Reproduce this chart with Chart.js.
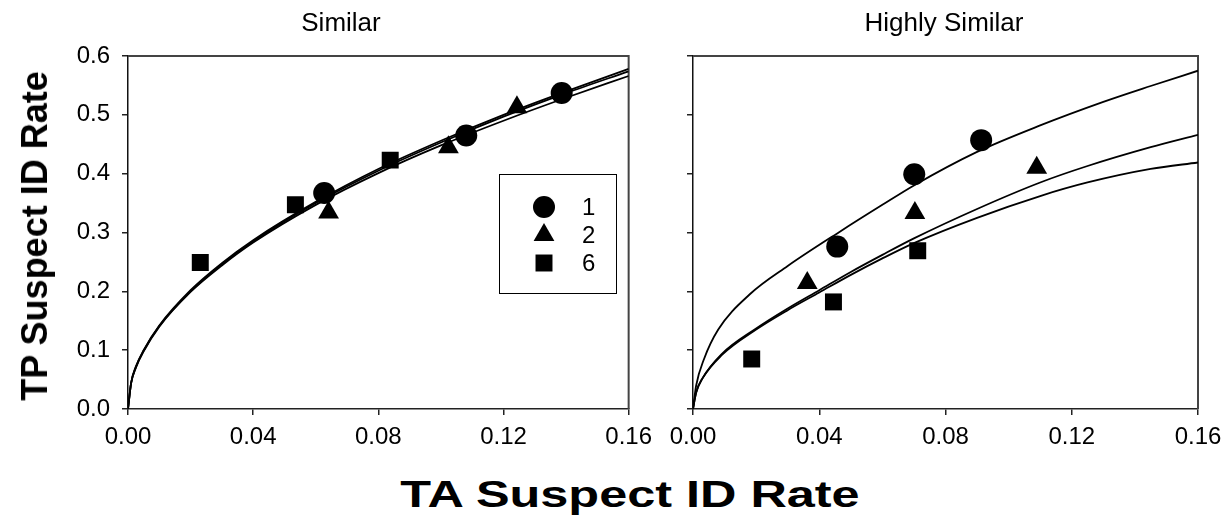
<!DOCTYPE html>
<html>
<head>
<meta charset="utf-8">
<script src="https://cdn.jsdelivr.net/npm/chart.js@4.4.1/dist/chart.umd.min.js"></script>
<style>
body { margin: 0; background: #fff; font-family: "Liberation Sans", Arial, sans-serif; color: #000; }
#wrap { position: relative; width: 1232px; height: 525px; overflow: hidden; }
.panel { position: absolute; top: 0; height: 450px; }
#left { left: 0; width: 660px; }
#right { left: 660px; width: 572px; }
.ptitle { position: absolute; top: 22px; transform: translate(-50%, -50%); font-size: 26px; white-space: nowrap; }
#ytitle { position: absolute; left: 35px; top: 236px; transform: translate(-50%, -50%) rotate(-90deg); font-weight: bold; font-size: 36px; white-space: nowrap; }
#xtitle { position: absolute; left: 630px; top: 495px; transform: translate(-50%, -50%) scaleX(1.4); font-weight: bold; font-size: 36px; white-space: nowrap; }
</style>
</head>
<body>
<div id="wrap">
  <div class="panel" id="left"><canvas id="simChart"></canvas></div>
  <div class="panel" id="right"><canvas id="hiChart"></canvas></div>
  <div class="ptitle" style="left:341px">Similar</div>
  <div class="ptitle" style="left:944px">Highly Similar</div>
  <div id="ytitle">TP Suspect ID Rate</div>
  <div id="xtitle">TA Suspect ID Rate</div>
</div>
<script>
// tick labels
var xTicks = [0, 0.04, 0.08, 0.12, 0.16];
var yTicks = [0, 0.1, 0.2, 0.3, 0.4, 0.5, 0.6];
var seriesNames = ['1', '2', '6'];

// Similar: data points
var sim1X = [0.0627, 0.1081, 0.1386];
var sim1Y = [0.367, 0.465, 0.537];
var sim2X = [0.0641, 0.1024, 0.1243];
var sim2Y = [0.334, 0.445, 0.513];
var sim6X = [0.0231, 0.0535, 0.0838];
var sim6Y = [0.249, 0.347, 0.423];

// Similar: fitted curves
var simCurveX = [0, 0.001, 0.0025, 0.005, 0.01, 0.02, 0.03, 0.04, 0.06, 0.08, 0.10, 0.12, 0.14, 0.16];
var simCurveA = [0, 0.045, 0.072, 0.100, 0.142, 0.202, 0.248, 0.287, 0.352, 0.408, 0.456, 0.500, 0.540, 0.578];
var simCurveB = [0, 0.044, 0.071, 0.099, 0.141, 0.200, 0.246, 0.285, 0.350, 0.405, 0.453, 0.497, 0.537, 0.574];
var simCurveC = [0, 0.044, 0.070, 0.098, 0.140, 0.199, 0.244, 0.283, 0.347, 0.401, 0.448, 0.490, 0.529, 0.566];

// Highly similar: data points
var hi1X = [0.0457, 0.0701, 0.0913];
var hi1Y = [0.276, 0.399, 0.457];
var hi2X = [0.0362, 0.0703, 0.1089];
var hi2Y = [0.214, 0.333, 0.410];
var hi6X = [0.0186, 0.0445, 0.0712];
var hi6Y = [0.085, 0.182, 0.269];

// Highly similar: fitted curves
var hiCurveX1 = [0, 0.001, 0.0035, 0.008, 0.018, 0.03, 0.047, 0.06, 0.07, 0.09, 0.11, 0.13, 0.145, 0.16];
var hiCurve1 = [0, 0.04, 0.085, 0.135, 0.195, 0.243, 0.303, 0.347, 0.380, 0.437, 0.482, 0.522, 0.549, 0.575];
var hiCurveX2 = [0, 0.001, 0.003, 0.009, 0.02, 0.03, 0.04, 0.05, 0.06, 0.07, 0.09, 0.11, 0.125, 0.145, 0.16];
var hiCurve2 = [0, 0.028, 0.052, 0.093, 0.137, 0.171, 0.202, 0.233, 0.262, 0.290, 0.340, 0.385, 0.413, 0.445, 0.466];
var hiCurve3 = [0, 0.028, 0.052, 0.091, 0.135, 0.168, 0.198, 0.228, 0.256, 0.282, 0.325, 0.362, 0.385, 0.408, 0.419];

var FONT = '"Liberation Sans", Arial, sans-serif';

function pts(xs, ys) {
    return xs.map(function (x, i) { return { x: x, y: ys[i] }; });
}

function curve(xs, ys) {
    return {
        type: 'line',
        label: '',
        data: pts(xs, ys),
        borderColor: '#000',
        borderWidth: 1.8,
        pointRadius: 0,
        fill: false,
        cubicInterpolationMode: 'monotone'
    };
}

function marks(name, xs, ys, style, r) {
    return {
        type: 'scatter',
        label: name,
        data: pts(xs, ys),
        pointStyle: style,
        pointRadius: r,
        pointHoverRadius: r,
        backgroundColor: '#000',
        borderColor: '#000',
        borderWidth: 0
    };
}

function drawSymbol(ctx, style, x, y, r) {
    ctx.beginPath();
    if (style === 'circle') {
        ctx.arc(x, y, r, 0, Math.PI * 2);
    } else if (style === 'triangle') {
        ctx.moveTo(x, y - r);
        ctx.lineTo(x + r * 0.866, y + r * 0.5);
        ctx.lineTo(x - r * 0.866, y + r * 0.5);
        ctx.closePath();
    } else {
        var s = r * Math.SQRT1_2;
        ctx.rect(x - s, y - s, 2 * s, 2 * s);
    }
    ctx.fill();
}

// top and right frame lines
var framePlugin = {
    id: 'frame',
    beforeDatasetsDraw: function (chart) {
        var a = chart.chartArea, ctx = chart.ctx;
        ctx.save();
        ctx.strokeStyle = '#444';
        ctx.lineWidth = 2;
        ctx.beginPath();
        ctx.moveTo(a.left, a.top);
        ctx.lineTo(a.right, a.top);
        ctx.lineTo(a.right, a.bottom);
        ctx.stroke();
        ctx.restore();
    }
};

// boxed legend inside the Similar panel
var legendPlugin = {
    id: 'boxLegend',
    afterDatasetsDraw: function (chart) {
        var a = chart.chartArea, ctx = chart.ctx;
        var bx = a.left + 371, by = a.top + 118, bw = 117, bh = 119;
        ctx.save();
        ctx.fillStyle = '#fff';
        ctx.fillRect(bx, by, bw, bh);
        ctx.strokeStyle = '#000';
        ctx.lineWidth = 1;
        ctx.strokeRect(bx + 0.5, by + 0.5, bw, bh);
        ctx.fillStyle = '#000';
        ctx.font = '24px ' + FONT;
        ctx.textBaseline = 'middle';
        var rows = chart.data.datasets.filter(function (d) { return d.label; });
        rows.forEach(function (d, i) {
            var cy = by + 33 + i * 28;
            drawSymbol(ctx, d.pointStyle, bx + 45, cy, d.pointRadius);
            ctx.fillText(d.label, bx + 83, cy + 1);
        });
        ctx.restore();
    }
};

function makeOptions(yWidth, showYLabels, padRight) {
    return {
        responsive: true,
        maintainAspectRatio: false,
        animation: false,
        layout: { padding: { left: 0, right: padRight, top: 56, bottom: 0 } },
        plugins: {
            legend: { display: false },
            tooltip: { enabled: false },
            title: { display: false }
        },
        scales: {
            x: {
                type: 'linear',
                min: 0,
                max: 0.16,
                afterFit: function (s) { s.height = 41; },
                afterBuildTicks: function (s) { s.ticks = xTicks.map(function (v) { return { value: v }; }); },
                ticks: {
                    autoSkip: false,
                    maxRotation: 0,
                    padding: 8,
                    color: '#000',
                    font: { size: 24, family: FONT },
                    callback: function (v) { return v.toFixed(2); }
                },
                grid: { drawOnChartArea: false, drawTicks: true, tickLength: 6, color: '#222', lineWidth: 1.5 },
                border: { color: '#222', width: 1.5 }
            },
            y: {
                type: 'linear',
                min: 0,
                max: 0.6,
                afterFit: function (s) { s.width = yWidth; },
                afterBuildTicks: function (s) { s.ticks = yTicks.map(function (v) { return { value: v }; }); },
                ticks: {
                    display: showYLabels,
                    autoSkip: false,
                    padding: 12,
                    color: '#000',
                    font: { size: 24, family: FONT },
                    callback: function (v) { return v.toFixed(1); }
                },
                grid: { drawOnChartArea: false, drawTicks: true, tickLength: 6, color: '#222', lineWidth: 1.5 },
                border: { color: '#111', width: 1.5 }
            }
        }
    };
}

new Chart(document.getElementById('simChart'), {
    data: {
        datasets: [
            curve(simCurveX, simCurveA),
            curve(simCurveX, simCurveB),
            curve(simCurveX, simCurveC),
            marks(seriesNames[0], sim1X, sim1Y, 'circle', 11),
            marks(seriesNames[1], sim2X, sim2Y, 'triangle', 12),
            marks(seriesNames[2], sim6X, sim6Y, 'rect', 12)
        ]
    },
    options: makeOptions(128, true, 27),
    plugins: [framePlugin, legendPlugin]
});

new Chart(document.getElementById('hiChart'), {
    data: {
        datasets: [
            curve(hiCurveX1, hiCurve1),
            curve(hiCurveX2, hiCurve2),
            curve(hiCurveX2, hiCurve3),
            marks(seriesNames[0], hi1X, hi1Y, 'circle', 11),
            marks(seriesNames[1], hi2X, hi2Y, 'triangle', 12),
            marks(seriesNames[2], hi6X, hi6Y, 'rect', 12)
        ]
    },
    options: makeOptions(33, false, 34),
    plugins: [framePlugin]
});
</script>
</body>
</html>
